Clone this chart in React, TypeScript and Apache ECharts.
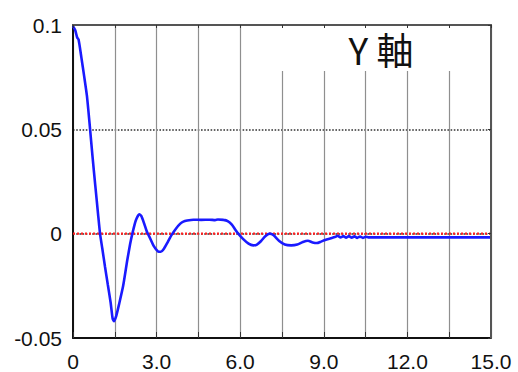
import React, { useEffect, useRef } from "react";
import * as echarts from "echarts";

const timeValues = [
  0, 0.08, 0.15, 0.2, 0.3, 0.4, 0.5, 0.6, 0.7, 0.8, 0.9, 0.97, 1.05, 1.15, 1.25, 1.35, 1.42, 1.47, 1.55, 1.65,
  1.8, 1.95, 2.05, 2.13, 2.25, 2.38, 2.45, 2.55, 2.65, 2.76, 2.9, 3.05, 3.15, 3.25, 3.4, 3.54, 3.7, 3.85,
  3.96, 4.1, 4.32, 4.6, 4.9, 5.1, 5.2, 5.4, 5.55, 5.7, 5.82, 5.93, 6.1, 6.3, 6.47, 6.6, 6.75, 6.9, 7.06,
  7.2, 7.4, 7.6, 7.83, 8.05, 8.25, 8.43, 8.6, 8.75, 8.9, 9.05, 9.25, 9.4, 9.5, 9.6, 9.7, 9.8, 9.9, 10.0,
  10.1, 10.2, 10.3, 10.4, 10.5, 10.6, 15,
];
const responseValues = [
  0.0995, 0.0975, 0.094, 0.093, 0.0845, 0.0755, 0.066, 0.052, 0.037, 0.023, 0.0093, 0, -0.007, -0.016, -0.0245,
  -0.033, -0.0405, -0.042, -0.0395, -0.034, -0.025, -0.0125, -0.005, 0, 0.0062, 0.0093, 0.0085, 0.005, 0.001,
  -0.002, -0.006, -0.0085, -0.0087, -0.0075, -0.004, -0.0006, 0.0025, 0.0048, 0.0058, 0.0063, 0.0067,
  0.0066, 0.0067, 0.0065, 0.0068, 0.0066, 0.006, 0.0043, 0.002, 0, -0.0025, -0.0048, -0.0056, -0.0052,
  -0.0035, -0.0012, 0, -0.0008, -0.0035, -0.0052, -0.0056, -0.0052, -0.004, -0.0034, -0.0042, -0.0045,
  -0.0038, -0.003, -0.0022, -0.0016, -0.001, -0.0018, -0.0012, -0.0019, -0.0012, -0.0019, -0.0013, -0.002,
  -0.0014, -0.002, -0.0015, -0.0018, -0.0018,
];
const referenceTimes = [0, 15];
const referenceValues = [0, 0];
const xTickLabels = ["0", "3.0", "6.0", "9.0", "12.0", "15.0"];
const yTickLabels: Record<string, string> = { "-0.05": "-0.05", "0": "0", "0.05": "0.05", "0.1": "0.1" };
const titleText = "Y 軸";

export default function App() {
  const ref = useRef<HTMLDivElement>(null);
  useEffect(() => {
    if (!ref.current) return;
    const chart = echarts.init(ref.current, null, { renderer: "svg" });
    const font = "'Liberation Sans', Arial, sans-serif";
    chart.setOption({
      animation: false,
      backgroundColor: "#ffffff",
      grid: { left: 73, right: 27, top: 25, bottom: 27, containLabel: false },
      xAxis: [
        {
          type: "value",
          min: 0,
          max: 15,
          interval: 1.5,
          z: 0,
          axisLine: { show: true, onZero: false, lineStyle: { color: "#111", width: 2 } },
          axisTick: { show: true, inside: true, length: 6, lineStyle: { color: "#333", width: 1 } },
          axisLabel: {
            margin: 13,
            fontFamily: font,
            fontSize: 21,
            color: "#111",
            formatter: (v: number) => {
              const i = Math.round(v / 3);
              return Math.abs(v - i * 3) < 1e-6 ? xTickLabels[i] : "";
            },
          },
          splitLine: { show: true, lineStyle: { color: "#8f8f8f", width: 1.2 } },
        },
        {
          type: "value",
          position: "top",
          min: 0,
          max: 15,
          interval: 1.5,
          z: 5,
          axisLine: { show: true, onZero: false, lineStyle: { color: "#555", width: 2 } },
          axisTick: { show: true, inside: true, length: 3, lineStyle: { color: "#333", width: 1 } },
          axisLabel: { show: false },
          splitLine: { show: false },
        },
      ],
      yAxis: [
        {
          type: "value",
          min: -0.05,
          max: 0.1,
          interval: 0.05,
          z: 0,
          axisLine: { show: true, onZero: false, lineStyle: { color: "#111", width: 2 } },
          axisTick: { show: false },
          axisLabel: {
            margin: 11,
            fontFamily: font,
            fontSize: 21,
            color: "#111",
            formatter: (v: number) => {
              const key = String(Math.round(v * 100) / 100);
              return yTickLabels[key] ?? key;
            },
          },
          splitLine: { show: true, lineStyle: { color: "#333", width: 1.6, type: "dotted" } },
        },
        {
          type: "value",
          position: "right",
          min: -0.05,
          max: 0.1,
          interval: 0.05,
          z: 5,
          axisLine: { show: true, onZero: false, lineStyle: { color: "#555", width: 2 } },
          axisTick: { show: true, inside: true, length: 3, lineStyle: { color: "#333" } },
          axisLabel: { show: false },
          splitLine: { show: false },
        },
      ],
      graphic: [
        {
          type: "rect",
          z: 1,
          shape: { x: 262, y: 26, width: 228, height: 45 },
          style: { fill: "#ffffff" },
          silent: true,
        },
        {
          type: "text",
          z: 6,
          x: 381,
          y: 49,
          style: {
            text: titleText,
            fontFamily: "'Noto Sans CJK JP', sans-serif",
            fontSize: 37,
            fill: "#111",
            align: "center",
            verticalAlign: "middle",
          },
        },
      ],
      series: [
        {
          type: "line",
          xAxisIndex: 0,
          yAxisIndex: 0,
          data: referenceTimes.map((t, i) => [t, referenceValues[i]]),
          showSymbol: false,
          z: 3,
          lineStyle: { color: "#ff2020", width: 2.2, type: [2, 2] },
        },
        {
          type: "line",
          xAxisIndex: 0,
          yAxisIndex: 0,
          data: timeValues.map((t, i) => [t, responseValues[i]]),
          showSymbol: false,
          smooth: 0.2,
          z: 4,
          lineStyle: { color: "#1a1aff", width: 2.6 },
        },
      ],
    });
    return () => chart.dispose();
  }, []);
  return <div ref={ref} style={{ width: 518, height: 372, position: "absolute", left: 0, top: 0 }} />;
}
